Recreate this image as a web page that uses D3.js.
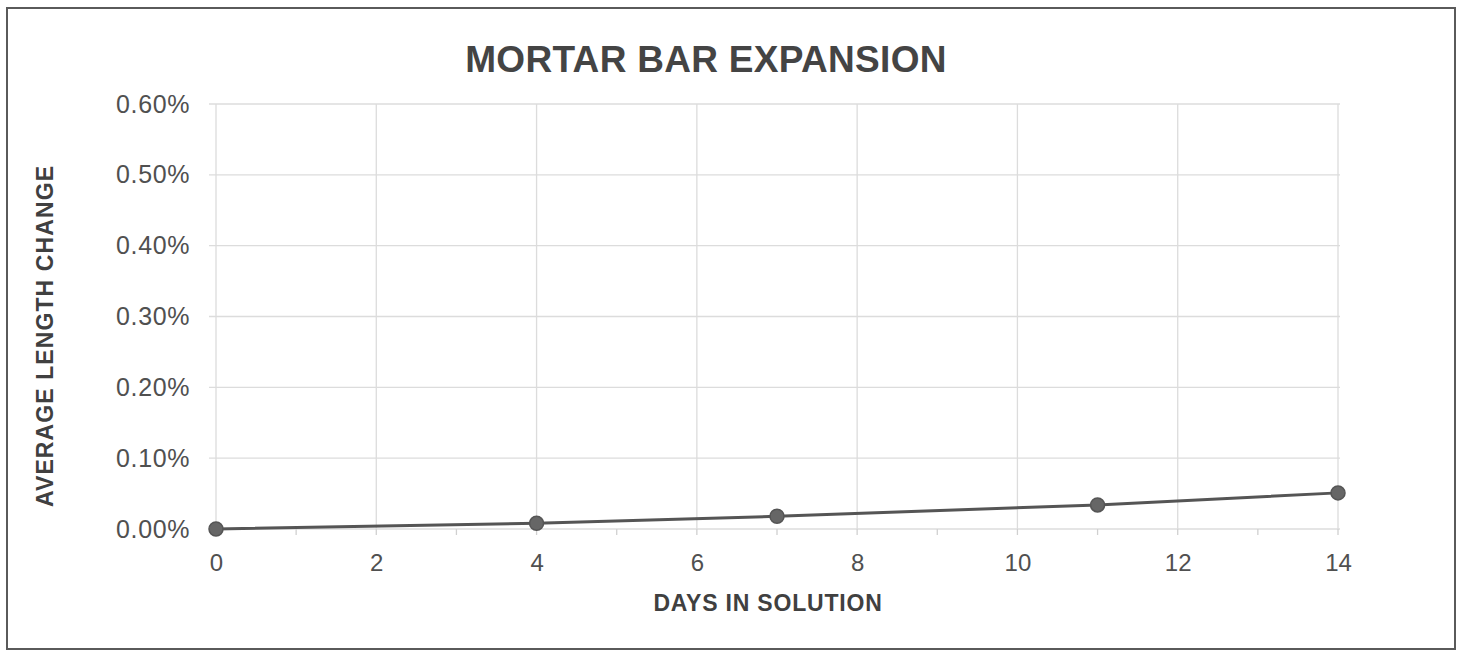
<!DOCTYPE html>
<html>
<head>
<meta charset="utf-8">
<script src="https://cdn.jsdelivr.net/npm/d3@7"></script>
<style>
  html, body { margin: 0; padding: 0; background: #fff; }
  svg { display: block; font-family: "Liberation Sans", Arial, sans-serif; }
</style>
</head>
<body>
<svg id="chart" width="1461" height="654"></svg>
<script>
// ---- data ----
const days = [0, 4, 7, 11, 14];
const lengthChange = [0.00000, 0.00008, 0.00018, 0.00034, 0.00051];
const xTicks = [0, 2, 4, 6, 8, 10, 12, 14];
const xMinorTicks = [0,1,2,3,4,5,6,7,8,9,10,11,12,13,14];
const yTicks = [0, 0.001, 0.002, 0.003, 0.004, 0.005, 0.006];
const chartTitle = "MORTAR BAR EXPANSION";
const xTitle = "DAYS IN SOLUTION";
const yTitle = "AVERAGE LENGTH CHANGE";

(function () {
const svg = d3.select("#chart");
const W = 1461, H = 654;
const pL = 216, pR = 1338, pT = 104, pB = 529;

svg.append("rect").attr("width", W).attr("height", H).attr("fill", "#fff");
// outer frame
svg.append("rect")
  .attr("x", 7).attr("y", 8).attr("width", 1448).attr("height", 641)
  .attr("fill", "none").attr("stroke", "#5a5a5a").attr("stroke-width", 2);

const x = d3.scaleLinear().domain([0, 14]).range([pL, pR]);
const y = d3.scaleLinear().domain([0, 0.006]).range([pB, pT]);

// gridlines
const grid = svg.append("g");
grid.selectAll("line.h").data(yTicks).join("line").attr("class", "h")
  .attr("x1", pL - 7).attr("x2", pR + 2)
  .attr("y1", d => y(d)).attr("y2", d => y(d))
  .attr("stroke", "#dcdcdc").attr("stroke-width", 1.3);
grid.selectAll("line.v").data(xTicks).join("line").attr("class", "v")
  .attr("x1", d => x(d)).attr("x2", d => x(d))
  .attr("y1", pT).attr("y2", pB)
  .attr("stroke", "#dcdcdc").attr("stroke-width", 1.3);
grid.selectAll("line.m").data(xMinorTicks).join("line").attr("class", "m")
  .attr("x1", d => x(d)).attr("x2", d => x(d))
  .attr("y1", pB).attr("y2", pB + 6)
  .attr("stroke", "#d0d0d0").attr("stroke-width", 1.3);

// y axis labels
const yAxis = d3.axisLeft(y).tickValues(yTicks).tickFormat(d3.format(".2%")).tickSize(0).tickPadding(26);
const gy = svg.append("g").attr("transform", `translate(${pL},0)`).call(yAxis);
gy.select(".domain").remove();
gy.selectAll("text").attr("font-size", 25).attr("fill", "#505050")
  .attr("letter-spacing", 0.6)
  .attr("font-family", "'Liberation Sans', Arial, sans-serif");

// x axis labels
const xAxis = d3.axisBottom(x).tickValues(xTicks).tickFormat(d3.format("d")).tickSize(0).tickPadding(25);
const gx = svg.append("g").attr("transform", `translate(0,${pB})`).call(xAxis);
gx.select(".domain").remove();
gx.selectAll("text").attr("font-size", 24).attr("fill", "#505050")
  .attr("font-family", "'Liberation Sans', Arial, sans-serif");

// line
const pts = days.map((d, i) => [d, lengthChange[i]]);
svg.append("path").datum(pts)
  .attr("d", d3.line().x(d => x(d[0])).y(d => y(d[1])))
  .attr("fill", "none").attr("stroke", "#555").attr("stroke-width", 3);
svg.selectAll("circle.pt").data(pts).join("circle").attr("class", "pt")
  .attr("cx", d => x(d[0])).attr("cy", d => y(d[1])).attr("r", 7)
  .attr("fill", "#666").attr("stroke", "#555").attr("stroke-width", 1.5);

// titles
svg.append("text").attr("x", 706).attr("y", 72).attr("text-anchor", "middle")
  .attr("font-size", 37).attr("font-weight", "bold").attr("fill", "#444")
  .attr("letter-spacing", 0.3)
  .text(chartTitle);
svg.append("text").attr("x", 768).attr("y", 611).attr("text-anchor", "middle")
  .attr("font-size", 23).attr("font-weight", "bold").attr("fill", "#404040")
  .attr("letter-spacing", 0.8)
  .text(xTitle);
svg.append("text").attr("transform", "translate(53,336) rotate(-90)").attr("text-anchor", "middle")
  .attr("font-size", 23).attr("font-weight", "bold").attr("fill", "#404040")
  .attr("letter-spacing", 1.1)
  .text(yTitle);
})();
</script>
</body>
</html>
